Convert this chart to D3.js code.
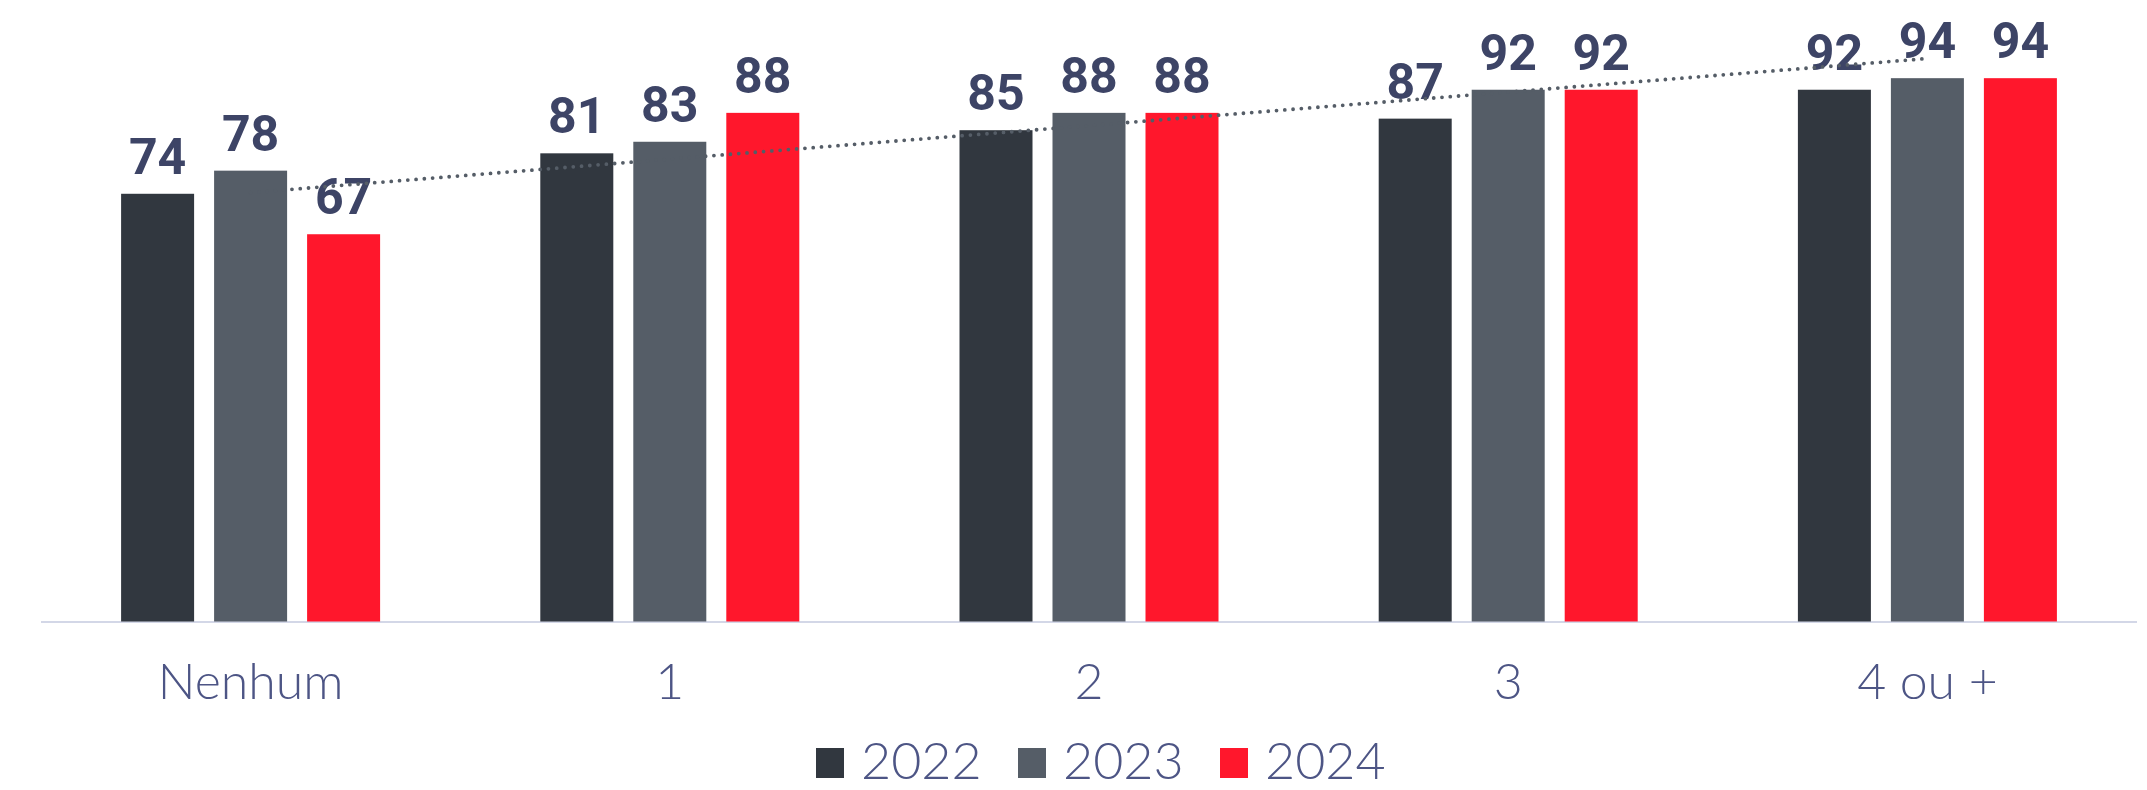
<!DOCTYPE html>
<html><head><meta charset="utf-8">
<script src="https://cdn.jsdelivr.net/npm/d3@7/dist/d3.min.js"></script>
<style>
html,body{margin:0;padding:0;background:#fff;}
svg{display:block;}
</style></head>
<body>
<svg id="c" width="2147" height="790"></svg>
<script>
const categories = ["Nenhum", "1", "2", "3", "4 ou +"];
const seriesNames = ["2022", "2023", "2024"];
const values2022 = [74, 81, 85, 87, 92];
const values2023 = [78, 83, 88, 92, 94];
const values2024 = [67, 88, 88, 92, 94];
const seriesColors = ["#31373f", "#555d67", "#ff172c"];

const allValues = [values2022, values2023, values2024];
const svg = d3.select("#c");

const x0 = d3.scaleBand().domain(categories).range([41, 2137]).paddingInner(0).paddingOuter(0);
const y = d3.scaleLinear().domain([0, 100]).range([621.5, 43.5]);
const groupW = 259;
const x1 = d3.scaleBand().domain(seriesNames).range([0, groupW]).paddingInner(20/93).paddingOuter(0);

// axis line
svg.append("line").attr("x1", 41).attr("x2", 2137).attr("y1", 622).attr("y2", 622)
  .attr("stroke", "#d3d7e7").attr("stroke-width", 2);

// bars
const groups = svg.selectAll("g.grp").data(categories).enter().append("g")
  .attr("class","grp")
  .attr("transform", d => `translate(${x0(d) + x0.bandwidth()/2 - groupW/2},0)`);

seriesNames.forEach((s, si) => {
  groups.append("rect")
    .attr("x", x1(s))
    .attr("width", x1.bandwidth())
    .attr("y", (d, i) => y(allValues[si][i]))
    .attr("height", (d, i) => y(0) - y(allValues[si][i]))
    .attr("fill", seriesColors[si]);
});

// linear trendline of 2024 series, positioned at category centers
const n = values2024.length;
const xs = d3.range(1, n + 1);
const mx = d3.mean(xs), my = d3.mean(values2024);
const slope = d3.sum(xs, (xv, i) => (xv - mx) * (values2024[i] - my)) / d3.sum(xs, xv => (xv - mx) ** 2);
const intercept = my - slope * mx;
const trendPts = [categories[0], categories[n - 1]].map((c, k) => {
  const xi = k === 0 ? 1 : n;
  return [x0(c) + x0.bandwidth()/2, y(intercept + slope * xi)];
});
svg.append("path")
  .attr("d", d3.line()(trendPts))
  .attr("fill", "none")
  .attr("stroke", "#555d67")
  .attr("stroke-width", 3.8)
  .attr("stroke-linecap", "round")
  .attr("stroke-dasharray", "0 8.3");

// value labels
seriesNames.forEach((s, si) => {
  groups.append("text")
    .attr("x", x1(s) + x1.bandwidth()/2)
    .attr("y", (d, i) => y(allValues[si][i]) - 20)
    .attr("text-anchor", "middle")
    .attr("font-family", "'Roboto', sans-serif")
    .attr("font-weight", "bold")
    .attr("font-size", 50)
    .attr("fill", "#3d4466")
    .text((d, i) => allValues[si][i]);
});

// category labels
svg.selectAll("text.cat").data(categories).enter().append("text")
  .attr("class","cat")
  .attr("x", d => x0(d) + x0.bandwidth()/2)
  .attr("y", 699)
  .attr("text-anchor", "middle")
  .attr("font-family", "Lato, sans-serif")
  .attr("font-weight", 300)
  .attr("font-size", 50)
  .attr("fill", "#4d5585")
  .text(d => d);

// legend
const legStart = 816, legStep = 202;
const leg = svg.selectAll("g.leg").data(seriesNames).enter().append("g")
  .attr("class","leg")
  .attr("transform", (d, i) => `translate(${legStart + i * legStep},0)`);
leg.append("rect").attr("x", 0).attr("y", 748).attr("width", 28).attr("height", 30)
  .attr("fill", (d, i) => seriesColors[i]);
leg.append("text").attr("x", 45).attr("y", 779)
  .attr("font-family", "Lato, sans-serif")
  .attr("font-weight", 300)
  .attr("font-size", 52)
  .attr("fill", "#4d5585")
  .text(d => d);
</script>
</body></html>
